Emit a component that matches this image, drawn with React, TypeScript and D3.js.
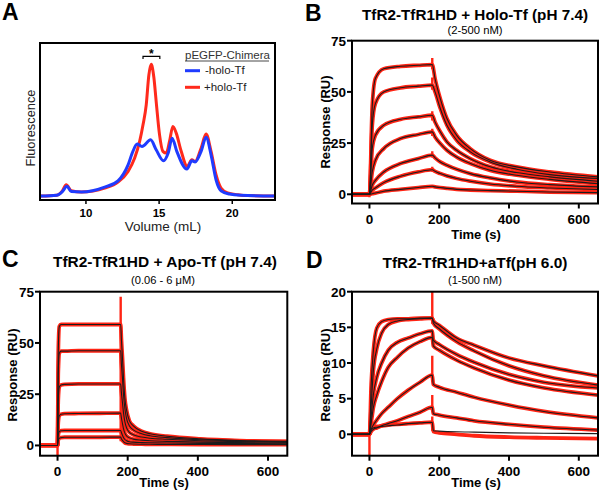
import React from 'react';
import * as d3 from 'd3';

const FONT = '"Liberation Sans", Arial, Helvetica, sans-serif';

// A: SEC fluorescence traces (volume mL, signal a.u.)
const holoVolume = [6.9, 8.0, 8.4, 8.65, 9.0, 9.69, 11.28, 12.19, 12.88, 13.33, 13.67, 13.9, 14.12, 14.3, 14.46, 14.64, 14.8, 15.03, 15.26, 15.49, 15.71, 15.94, 16.17, 16.51, 16.92, 17.24, 17.46, 17.87, 18.21, 18.55, 18.89, 19.23, 19.68, 20.37, 21.0, 22.9];
const holoSignal = [2.5, 3, 6, 9.7, 5.9, 5.1, 7.6, 11.4, 18.2, 26.7, 37.3, 47.9, 60.6, 79.6, 86.4, 78.2, 62.7, 41.5, 31, 29.9, 37.3, 46.8, 42.6, 31, 21.4, 25.6, 24.6, 33, 42, 31, 16.1, 7.6, 4.5, 3.4, 2.8, 2.5];
const noHoloVolume = [6.9, 8.0, 8.4, 8.7, 9.0, 9.69, 11.28, 12.19, 12.88, 13.21, 13.5, 13.83, 14.42, 14.8, 15.3, 15.62, 15.89, 16.21, 16.9, 17.24, 17.46, 17.87, 18.21, 18.55, 18.89, 19.23, 19.8, 20.6, 22.9];
const noHoloSignal = [2.5, 3, 5.5, 8.7, 5.4, 5.1, 8.2, 12.2, 22.4, 31, 35.6, 34.1, 38.3, 32, 25, 29.9, 39.4, 31, 19.7, 25, 24.2, 31, 39.9, 28.8, 12.9, 5.9, 3.8, 3, 2.5];
const volumeTicks = [10, 15, 20];

const timeTicks = [0, 200, 400, 600];

// B: holo-Tf pH 7.4
const timeB = [-50, 0, 8, 17, 41, 89, 140, 180, 188, 203, 222, 250, 289, 346, 422, 517, 655];
const respB = [
  [0, 0, 43, 56.5, 61.3, 62.5, 63, 63.3, 56.5, 46.7, 37, 28.8, 22.3, 16.6, 13.4, 10.9, 8.5],
  [0, 0, 33.7, 44.3, 50, 52, 52.8, 53.3, 50, 41.9, 33.7, 26.4, 20.7, 15.8, 12.2, 9.6, 7.7],
  [0, 0, 22.3, 28.8, 33.7, 36.6, 37.8, 38.6, 35.3, 30.5, 25.6, 21.5, 17.4, 13.4, 10.6, 8.5, 6.4],
  [0, 0, 10.9, 16.6, 22.3, 27.2, 29.2, 30.5, 28, 24.8, 21.5, 18.2, 15, 11.7, 9.3, 7.3, 5.2],
  [0, 0, 4.4, 6.8, 10.9, 15, 17.4, 19.1, 17.8, 15.8, 14.2, 12.2, 10.1, 8, 6, 4.7, 3.6],
  [0, 0, 2, 3.1, 5.7, 8.8, 10.9, 12, 11.2, 10.1, 9, 7.7, 6.4, 5, 3.9, 3.1, 2.3],
  [0, 0, 0.3, 0.6, 1.5, 2.4, 3.3, 3.9, 3.6, 3.3, 2.9, 2.4, 2.1, 1.8, 1.5, 1.1, 0.8],
];
const spikesB = [[180, 61, 66.5], [180, 51, 57], [180, 36, 40.5], [180, 28.5, 32], [180, 18, 21], [180, 11, 13.5], [0, -1.5, 0]];
const yTicksB = [0, 25, 50, 75];

// C: apo-Tf pH 7.4
const timeC = [-50, 0, 2, 5, 10, 20, 60, 120, 180, 182, 185, 188, 192, 197, 205, 216, 240, 264, 312, 407, 520, 655];
const respC = [
  [0, 0, 45, 58, 59, 59, 59, 59, 59, 52, 43, 33, 23, 17, 12, 9.6, 6.9, 5.7, 4.5, 3.2, 2.4, 2],
  [0, 0, 35, 45, 46, 46, 46.2, 46.2, 46.2, 40, 33, 25, 18, 13, 9.5, 7.6, 5.7, 4.7, 3.8, 2.8, 2.2, 1.8],
  [0, 0, 22, 28.5, 29.5, 29.8, 30, 30, 30, 26, 21, 16, 11.5, 8.5, 6.4, 5.2, 4.1, 3.5, 3, 2.3, 1.9, 1.5],
  [0, 0, 11, 14.5, 15.2, 15.5, 15.6, 15.7, 15.8, 13.5, 10.8, 8.2, 6, 4.6, 3.7, 3.1, 2.6, 2.3, 2, 1.6, 1.4, 1.2],
  [0, 0, 5, 6.8, 7.2, 7.3, 7.3, 7.3, 7.3, 6.3, 5, 3.9, 2.9, 2.3, 1.8, 1.6, 1.4, 1.3, 1.2, 1, 0.9, 0.8],
  [0, 0, 2.5, 3.5, 3.8, 4, 4, 4, 4.1, 3.3, 2.5, 1.9, 1.3, 1, 0.8, 0.7, 0.6, 0.55, 0.5, 0.45, 0.4, 0.4],
];
const spikesC = [[0, -5, 0], [180, 2, 72.5]];
const yTicksC = [0, 25, 50, 75];

// D: aTf pH 6.0
const timeD = [-50, 0, 5, 11, 21, 35, 54, 80, 111, 145, 180, 183, 200, 250, 300, 400, 500, 655];
const respD = [
  [0, 0, 7, 11.6, 14.9, 15.8, 16.1, 16.2, 16.2, 16.3, 16.3, 15.9, 15.3, 13.5, 12.5, 10.7, 9.6, 8.2],
  [0, 0, 4, 8.8, 12, 14.2, 15.4, 15.9, 16.1, 16.2, 16.3, 15.6, 14.8, 13, 11.7, 9.6, 8.2, 6.9],
  [0, 0, 2.5, 5.5, 8, 10, 11.8, 12.9, 13.5, 14.1, 14.5, 13.2, 12.6, 11.2, 10.1, 8.4, 7.3, 6.5],
  [0, 0, 1.6, 3.7, 5.5, 7.4, 9.4, 10.8, 12.1, 13, 13.6, 12.4, 11.8, 10.4, 9.3, 7.6, 6.5, 5.5],
  [0, 0, 0.7, 1.3, 2, 2.9, 3.8, 5, 6.2, 7.3, 8.3, 7, 6.6, 5.9, 5.2, 4.1, 3.2, 2.3],
  [0, 0, 0.4, 0.7, 0.9, 1.2, 1.5, 1.9, 2.5, 3.1, 3.8, 2.9, 2.7, 2.3, 1.9, 1.4, 1, 0.6],
  [0, 0, 0.7, 0.9, 1, 1.1, 1.2, 1.3, 1.5, 1.6, 1.7, 0.5, 0.45, 0.35, 0.3, 0.2, 0.15, 0.1],
];
const lowestObsD = [0, 0, 0.8, 1, 1.1, 1.2, 1.3, 1.4, 1.5, 1.6, 1.7, 0.4, 0.2, 0, -0.2, -0.4, -0.5, -0.6];
const spikesD = [[0, -3, 0.5], [180, 15.5, 20], [180, 8, 11], [180, 3.5, 5.5], [180, 0.5, 2.5]];
const yTicksD = [0, 5, 10, 15, 20];

const RED = '#ff2414';

type Box = { x0: number; x1: number; y0: number; y1: number };

function Frame({ box }: { box: Box }) {
  return (
    <rect x={box.x0} y={box.y0} width={box.x1 - box.x0} height={box.y1 - box.y0}
      fill="none" stroke="#000" strokeWidth={2} />
  );
}

function SprPanel(props: {
  id: string; box: Box; yDomain: [number, number]; yTicks: number[];
  times: number[]; rows: number[][]; obsRows?: number[][]; spikes: number[][];
}) {
  const { id, box, yDomain, yTicks, times, rows, spikes } = props;
  const obsRows = props.obsRows || rows;
  const x = d3.scaleLinear().domain([-50, 655]).range([box.x0, box.x1]);
  const y = d3.scaleLinear().domain(yDomain).range([box.y1, box.y0]);
  const line = d3.line<number>()
    .x((_, i) => x(times[i]))
    .y((v) => y(v))
    .curve(d3.curveMonotoneX);
  return (
    <g>
      <defs>
        <clipPath id={id}>
          <rect x={box.x0} y={box.y0} width={box.x1 - box.x0} height={box.y1 - box.y0} />
        </clipPath>
      </defs>
      <g clipPath={`url(#${id})`}>
        {obsRows.map((r, i) => (
          <path key={'o' + i} d={line(r) || ''} fill="none" stroke={RED} strokeWidth={3.8}
            strokeLinejoin="round" />
        ))}
        {spikes.map((s, i) => (
          <line key={'s' + i} x1={x(s[0])} x2={x(s[0])} y1={y(s[1])} y2={y(s[2])}
            stroke={RED} strokeWidth={2.4} />
        ))}
        {rows.map((r, i) => (
          <path key={'f' + i} d={line(r) || ''} fill="none" stroke="#1c1c1c" strokeWidth={1.1} />
        ))}
      </g>
      <Frame box={box} />
      {timeTicks.map((t) => (
        <g key={'xt' + t}>
          <line x1={x(t)} x2={x(t)} y1={box.y1} y2={box.y1 + 5} stroke="#000" strokeWidth={2} />
          <text x={x(t)} y={box.y1 + 20} textAnchor="middle" fontFamily={FONT} fontWeight="bold"
            fontSize={13.5}>{t}</text>
        </g>
      ))}
      {yTicks.map((v) => (
        <g key={'yt' + v}>
          <line x1={box.x0 - 5} x2={box.x0} y1={y(v)} y2={y(v)} stroke="#000" strokeWidth={2} />
          <text x={box.x0 - 6} y={y(v) + 4.8} textAnchor="end" fontFamily={FONT} fontWeight="bold"
            fontSize={13.5}>{v}</text>
        </g>
      ))}
    </g>
  );
}

function SecPanel({ box }: { box: Box }) {
  const x = d3.scaleLinear().domain([6.86, 22.92]).range([box.x0, box.x1]);
  const y = d3.scaleLinear().domain([0, 100]).range([box.y1, box.y0]);
  const mk = (vols: number[]) => d3.line<number>()
    .x((_, i) => x(vols[i]))
    .y((v) => y(v))
    .curve(d3.curveMonotoneX);
  const lx = 185;
  return (
    <g>
      <defs>
        <clipPath id="clipA">
          <rect x={box.x0} y={box.y0} width={box.x1 - box.x0} height={box.y1 - box.y0} />
        </clipPath>
      </defs>
      <g clipPath="url(#clipA)">
        <path d={mk(holoVolume)(holoSignal) || ''} fill="none" stroke="#ff2a1c" strokeWidth={3} />
        <path d={mk(noHoloVolume)(noHoloSignal) || ''} fill="none" stroke="#1f3bff" strokeWidth={3} />
      </g>
      <Frame box={box} />
      {volumeTicks.map((v) => (
        <g key={v}>
          <line x1={x(v)} x2={x(v)} y1={box.y1} y2={box.y1 + 4} stroke="#000" strokeWidth={1.5} />
          <text x={x(v)} y={box.y1 + 16.5} textAnchor="middle" fontFamily={FONT} fontWeight="bold"
            fontSize={11.5}>{v}</text>
        </g>
      ))}
      <path d={`M${x(13.9)},${box.y0 + 16}V${box.y0 + 13.3}H${x(15.05)}V${box.y0 + 16}`}
        fill="none" stroke="#000" strokeWidth={1.2} />
      <text x={(x(13.9) + x(15.05)) / 2} y={box.y0 + 14.5} textAnchor="middle" fontFamily={FONT}
        fontWeight="bold" fontSize={12}>*</text>
      <text x={lx} y={58.5} fontFamily={FONT} fontSize={11.5} fill="#333">pEGFP-Chimera</text>
      <line x1={lx} x2={lx + 84} y1={61} y2={61} stroke="#333" strokeWidth={0.9} />
      <line x1={lx} x2={lx + 15} y1={70.7} y2={70.7} stroke="#1f3bff" strokeWidth={3} />
      <text x={lx + 20} y={74.3} fontFamily={FONT} fontSize={11.5} fill="#222">-holo-Tf</text>
      <line x1={lx} x2={lx + 15} y1={87.3} y2={87.3} stroke="#ff2a1c" strokeWidth={3} />
      <text x={lx + 19} y={91} fontFamily={FONT} fontSize={11.5} fill="#222">+holo-Tf</text>
      <text transform="translate(35,128) rotate(-90)" textAnchor="middle" fontFamily={FONT}
        fontSize={12.8} fill="#222">Fluorescence</text>
      <text x={163} y={231} textAnchor="middle" fontFamily={FONT} fontSize={13.5} fill="#222">Volume (mL)</text>
    </g>
  );
}

function Title({ x, y, text, len }: { x: number; y: number; text: string; len: number }) {
  return (
    <text x={x} y={y} textAnchor="middle" fontFamily={FONT} fontWeight="bold" fontSize={15.5}
      textLength={len} lengthAdjust="spacingAndGlyphs">{text}</text>
  );
}

function Sub({ x, y, text, len }: { x: number; y: number; text: string; len: number }) {
  return (
    <text x={x} y={y} textAnchor="middle" fontFamily={FONT} fontSize={10.5}
      textLength={len} lengthAdjust="spacingAndGlyphs">{text}</text>
  );
}

function Letter({ x, y, t }: { x: number; y: number; t: string }) {
  return <text x={x} y={y} fontFamily={FONT} fontWeight="bold" fontSize={23}>{t}</text>;
}

function AxisTitles({ cx, bottom, ax, ay }: { cx: number; bottom: number; ax: number; ay: number }) {
  return (
    <g fontFamily={FONT} fontWeight="bold" fontSize={13}>
      <text x={cx} y={bottom} textAnchor="middle">Time (s)</text>
      <text transform={`translate(${ax},${ay}) rotate(-90)`} textAnchor="middle">Response (RU)</text>
    </g>
  );
}

export default function App() {
  const boxA = { x0: 40, x1: 275, y0: 43, y1: 200 };
  const boxB = { x0: 352, x1: 598, y0: 40.7, y1: 203.5 };
  const boxC = { x0: 40, x1: 287.3, y0: 291.7, y1: 455.7 };
  const boxD = { x0: 352, x1: 598, y0: 291.7, y1: 455.7 };
  const obsD = respD.map((r, i) => (i === 6 ? lowestObsD : r));
  return (
    <svg width={600} height={494} style={{ position: 'absolute', left: 0, top: 0, background: '#fff' }}>
      <rect width={600} height={494} fill="#fff" />
      <Letter x={2} y={20} t="A" />
      <Letter x={305} y={21} t="B" />
      <Letter x={2} y={267} t="C" />
      <Letter x={306} y={268} t="D" />

      <SecPanel box={boxA} />

      <Title x={475} y={20} text="TfR2-TfR1HD + Holo-Tf (pH 7.4)" len={226} />
      <Sub x={475} y={34} text="(2-500 nM)" len={55} />
      <SprPanel id="clipB" box={boxB} yDomain={[-4.5, 75]} yTicks={yTicksB} times={timeB}
        rows={respB} spikes={spikesB} />
      <AxisTitles cx={476} bottom={238.5} ax={330} ay={122} />

      <Title x={165} y={267} text="TfR2-TfR1HD + Apo-Tf (pH 7.4)" len={224} />
      <Sub x={163} y={284} text="(0.06 - 6 μM)" len={64} />
      <SprPanel id="clipC" box={boxC} yDomain={[-5, 75]} yTicks={yTicksC} times={timeC}
        rows={respC} spikes={spikesC} />
      <AxisTitles cx={164} bottom={487} ax={17} ay={375} />

      <Title x={475} y={268} text="TfR2-TfR1HD+aTf(pH 6.0)" len={185} />
      <Sub x={475} y={284} text="(1-500 nM)" len={54} />
      <SprPanel id="clipD" box={boxD} yDomain={[-3, 20]} yTicks={yTicksD} times={timeD}
        rows={respD} obsRows={obsD} spikes={spikesD} />
      <AxisTitles cx={476} bottom={487} ax={330} ay={375} />
    </svg>
  );
}
